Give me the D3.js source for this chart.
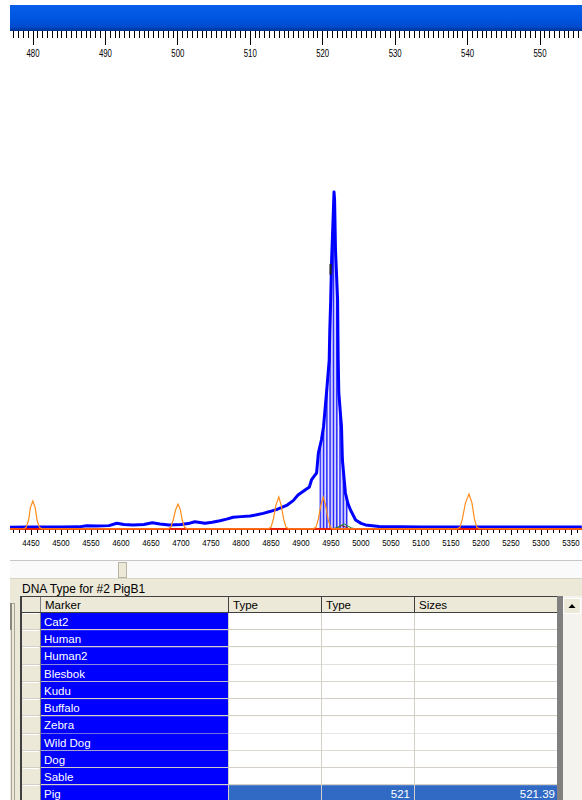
<!DOCTYPE html>
<html><head><meta charset="utf-8">
<script src="https://cdn.jsdelivr.net/npm/d3@7"></script>
<style>
body{margin:0;background:#fff;}
svg{display:block;}
text{font-family:"Liberation Sans",Arial,sans-serif;}
</style>
</head><body>
<svg id="c" width="582" height="800"></svg>
<script>
// ---------- data ----------
const sizeTicks = [480,490,500,510,520,530,540,550];
const scanTicks = [4450,4500,4550,4600,4650,4700,4750,4800,4850,4900,4950,5000,5050,5100,5150,5200,5250,5300,5350];

// blue dye trace: [scan, rfu]
const blueScan = [4415,4450,4500,4530,4543,4560,4580,4593,4605,4620,4638,4652,4665,4680,4700,4712,4723,4740,4752,4765,4776,4787,4800,4815,4826,4837,4848,4860,4868,4877,4887,4895,4905,4914,4917.5,4922,4926,4929,4934,4937.5,4942.5,4947,4948,4949.5,4951,4954,4955,4956,4957.5,4961,4962,4963,4967.5,4969,4974,4978,4982.5,4991,5000,5007.5,5030,5100,5200,5368];
const blueRfu  = [16,17,18,19,29,27,30,51,40,36,40,56,44,36,40,48,65,51,60,74,88,104,110,116,126,139,155,175,192,213,252,302,340,374,436,470,498,676,791,907,1209,1502,1769,2036,2391,2836,2996,2925,2480,2036,1502,1209,907,614,320,230,169,80,50,36,22,18,18,17];

// orange size-standard trace
const orangeScan = [4415,4438,4442,4446,4449,4453,4457,4460,4464,4468,4678,4683,4687,4691,4695,4699,4702,4706,4710,4845,4850,4854,4858,4863,4867,4871,4875,4880,4920,4925,4929,4933,4937,4941,4945,4949,4953,5160,5165,5169,5174,5180,5185,5189,5193,5198,5368];
const orangeRfu  = [0,2,15,80,190,249,190,80,15,2,2,15,80,170,222,170,80,15,2,2,15,90,210,284,210,90,15,2,2,15,90,210,284,210,90,15,2,2,15,90,230,311,230,90,15,2,0];

// green and dark red traces
const greenScan = [4415,4950,4960,4967,4972,4977,4984,4992,5368];
const greenRfu  = [0,0,12,32,45,30,10,0,0];
const redScan = [4415,4955,4962,4968,4974,4982,5368];
const redRfu  = [0,0,15,30,18,0,0];

// called peak
const calledScan = [4947.5, 4951];
const calledRfu = [2260, 2356];

// table
const tableTitle = "DNA Type for #2 PigB1";
const columns = ["Marker","Type","Type","Sizes"];
const markers = ["Cat2","Human","Human2","Blesbok","Kudu","Buffalo","Zebra","Wild Dog","Dog","Sable","Pig"];
const typeValues = ["","","","","","","","","","","521"];
const sizeValues = ["","","","","","","","","","","521.39"];

// ---------- drawing ----------
const svg = d3.select("#c");
const W = 582;

const x = d3.scaleLinear().domain([4450,5350]).range([31,571]);
const xs = d3.scaleLinear().domain([480,550]).range([33,540]);
const y = d3.scaleLinear().domain([0,4000]).range([529,79]);

const defs = svg.append("defs");
const g1 = defs.append("linearGradient").attr("id","bar").attr("x1",0).attr("y1",0).attr("x2",0).attr("y2",1);
[["0%","#0a5fea"],["55%","#0055e0"],["85%","#004acc"],["100%","#00308a"]].forEach(s=>g1.append("stop").attr("offset",s[0]).attr("stop-color",s[1]));
defs.append("clipPath").attr("id","plot").append("rect").attr("x",10).attr("y",60).attr("width",W-10).attr("height",475);

// top title bar
svg.append("rect").attr("x",10).attr("y",5).attr("width",W-10).attr("height",26).attr("fill","url(#bar)");

// top size axis
const minorTop = d3.range(476, 557, 2/3);
svg.append("g").selectAll("line").data(minorTop).join("line")
  .attr("x1",d=>xs(d)).attr("x2",d=>xs(d)).attr("y1",31).attr("y2",38)
  .attr("stroke","#000").attr("stroke-width",1).attr("shape-rendering","crispEdges")
  .style("display",d=>xs(d)<10||xs(d)>W?"none":null);
svg.append("g").selectAll("line").data(sizeTicks).join("line")
  .attr("x1",d=>xs(d)).attr("x2",d=>xs(d)).attr("y1",31).attr("y2",45)
  .attr("stroke","#000").attr("shape-rendering","crispEdges");
svg.append("g").selectAll("text").data(sizeTicks).join("text")
  .attr("x",d=>xs(d)).attr("y",57).attr("text-anchor","middle")
  .attr("font-size",10).attr("textLength",13).attr("lengthAdjust","spacingAndGlyphs")
  .text(d=>d);

// plot
const plot = svg.append("g").attr("clip-path","url(#plot)");
const line = d3.line().x(d=>x(d[0])).y(d=>y(d[1]));
const zip = (a,b)=>a.map((v,i)=>[v,b[i]]);
const blue = zip(blueScan, blueRfu);

// striped fill under the peak
defs.append("clipPath").attr("id","under").append("path")
  .attr("d", d3.area().x(d=>x(d[0])).y0(y(0)).y1(d=>y(d[1]))(blue));
const stripes = plot.append("g").attr("clip-path","url(#under)");
stripes.append("rect").attr("x",x(4932)).attr("width",x(4978)-x(4932)).attr("y",60).attr("height",470).attr("fill","#9a9aff");
const sx = d3.range(x(4932), x(4978), 3.3);
stripes.selectAll("line.b").data(sx).join("line").attr("class","b")
  .attr("x1",d=>d).attr("x2",d=>d).attr("y1",60).attr("y2",530).attr("stroke","#2a2aff").attr("stroke-width",1.2);
stripes.selectAll("line.w").data(sx).join("line").attr("class","w")
  .attr("x1",d=>d+1.8).attr("x2",d=>d+1.8).attr("y1",60).attr("y2",530).attr("stroke","#fff").attr("stroke-width",0.8);

plot.append("path").attr("d",line(zip(redScan,redRfu))).attr("fill","none").attr("stroke","#8b1010").attr("stroke-width",1);
plot.append("path").attr("d",line(zip(greenScan,greenRfu))).attr("fill","none").attr("stroke","#1e8c1e").attr("stroke-width",1);
plot.append("path").attr("d",line(blue)).attr("fill","none").attr("stroke","#0000ff").attr("stroke-width",3).attr("stroke-linejoin","round");
plot.append("line").attr("x1",10).attr("x2",W).attr("y1",y(0)).attr("y2",y(0)).attr("stroke","#e8200a").attr("stroke-width",2);
plot.append("path").attr("d",line(zip(orangeScan,orangeRfu))).attr("fill","none").attr("stroke","#ff8c1a").attr("stroke-width",1.2);
plot.append("rect").attr("x",x(calledScan[0])).attr("width",x(calledScan[1])-x(calledScan[0]))
  .attr("y",y(calledRfu[1])).attr("height",y(calledRfu[0])-y(calledRfu[1])).attr("fill","#222");

// bottom scan axis
const minorBot = d3.range(4400, 5380, 10).filter(v=>x(v)>=10 && x(v)<=W);
svg.append("g").selectAll("line").data(minorBot).join("line")
  .attr("x1",d=>Math.round(x(d))+0.5).attr("x2",d=>Math.round(x(d))+0.5).attr("y1",530).attr("y2",d=>d%50===0?535:533)
  .attr("stroke","#000");
svg.append("g").selectAll("text").data(scanTicks).join("text")
  .attr("x",d=>x(d)).attr("y",546).attr("text-anchor","middle")
  .attr("font-size",9.5).attr("textLength",17.5).attr("lengthAdjust","spacingAndGlyphs")
  .text(d=>d);

// horizontal scroll band
svg.append("rect").attr("x",10).attr("y",560).attr("width",W-10).attr("height",18).attr("fill","#fafafa");
svg.append("line").attr("x1",10).attr("x2",W).attr("y1",560.5).attr("y2",560.5).attr("stroke","#c8c8c8");
svg.append("rect").attr("x",118.5).attr("y",562.5).attr("width",8).attr("height",15).attr("fill","#ece9d8").attr("stroke","#b8b4a4");

// lower panel
svg.append("rect").attr("x",10).attr("y",578).attr("width",W-10).attr("height",222).attr("fill","#ece9d8");
svg.append("line").attr("x1",10).attr("x2",W).attr("y1",578.5).attr("y2",578.5).attr("stroke","#d8d4c4");
svg.append("text").attr("x",22).attr("y",593).attr("font-size",12).attr("fill","#000").text(tableTitle);

// splitter
svg.append("rect").attr("x",11.5).attr("y",603.5).attr("width",3).attr("height",197).attr("fill","#ece9d8").attr("stroke","#a8a49a");
svg.append("rect").attr("x",10).attr("y",603).attr("width",2).attr("height",27).attr("fill","#8a877c");

// table
const colX = [40,228,321,414,557];
const rowY = d3.scaleBand().domain(markers).range([613, 613 + markers.length*17.22]);
const headTop = 596, headBot = 613;

// row header column
svg.append("rect").attr("x",22).attr("y",headTop).attr("width",18).attr("height",800-headTop).attr("fill","#ece9d8");
// header cells
svg.append("rect").attr("x",40).attr("y",headTop).attr("width",517).attr("height",headBot-headTop).attr("fill","#ece9d8");
svg.append("g").selectAll("text").data(columns).join("text")
  .attr("x",(d,i)=>colX[i]+5).attr("y",609).attr("font-size",11.5).attr("fill","#000").text(d=>d);

const rows = svg.append("g").selectAll("g").data(markers).join("g");
rows.append("rect").attr("x",40).attr("y",d=>rowY(d)).attr("width",colX[1]-40).attr("height",rowY.bandwidth()).attr("fill","#0000ff");
rows.append("rect").attr("x",colX[1]).attr("y",d=>rowY(d)).attr("width",colX[4]-colX[1]).attr("height",rowY.bandwidth())
  .attr("fill",(d,i)=>typeValues[i]?"#316ac5":"#fff");
rows.append("text").attr("x",44).attr("y",d=>rowY(d)+13).attr("font-size",11.5).attr("fill","#fff").text(d=>d);
rows.append("text").attr("x",colX[3]-4).attr("y",d=>rowY(d)+13).attr("text-anchor","end").attr("font-size",11.5).attr("fill","#fff").text((d,i)=>typeValues[i]);
rows.append("text").attr("x",colX[4]-2).attr("y",d=>rowY(d)+13).attr("text-anchor","end").attr("font-size",11.5).attr("fill","#fff").text((d,i)=>sizeValues[i]);
// row grid lines
rows.append("line").attr("x1",22).attr("x2",colX[4]).attr("y1",d=>Math.round(rowY(d)+rowY.bandwidth())-0.5).attr("y2",d=>Math.round(rowY(d)+rowY.bandwidth())-0.5)
  .attr("stroke","#d4d0c8");
rows.append("line").attr("x1",23).attr("x2",39).attr("y1",d=>Math.round(rowY(d))+0.5).attr("y2",d=>Math.round(rowY(d))+0.5).attr("stroke","#fff");
// column grid lines
svg.append("g").selectAll("line").data(colX.slice(1,4)).join("line")
  .attr("x1",d=>d+0.5).attr("x2",d=>d+0.5).attr("y1",headBot).attr("y2",800).attr("stroke","#d4d0c8");
svg.append("line").attr("x1",40.5).attr("x2",40.5).attr("y1",headTop).attr("y2",800).attr("stroke","#808080");
// header borders
svg.append("line").attr("x1",22).attr("x2",557).attr("y1",headTop+0.5).attr("y2",headTop+0.5).attr("stroke","#404040");
svg.append("line").attr("x1",22).attr("x2",557).attr("y1",headBot-0.5).attr("y2",headBot-0.5).attr("stroke","#404040");
svg.append("g").selectAll("line").data(colX.slice(1,4)).join("line")
  .attr("x1",d=>d+0.5).attr("x2",d=>d+0.5).attr("y1",headTop).attr("y2",headBot).attr("stroke","#404040");
svg.append("rect").attr("x",20).attr("y",headTop).attr("width",2).attr("height",800-headTop).attr("fill","#404040");
// right border + scrollbar
svg.append("rect").attr("x",557).attr("y",headTop).attr("width",6).attr("height",800-headTop).attr("fill","#808080");
svg.append("rect").attr("x",563).attr("y",headTop).attr("width",19).attr("height",800-headTop).attr("fill","#f4f3ee");
svg.append("rect").attr("x",563.5).attr("y",598.5).attr("width",17).attr("height",15).attr("fill","#ece9d8").attr("stroke","#fff");
svg.append("path").attr("d","M568.5,608 L575.5,608 L572,604 Z").attr("fill","#000");
</script>
</body></html>
